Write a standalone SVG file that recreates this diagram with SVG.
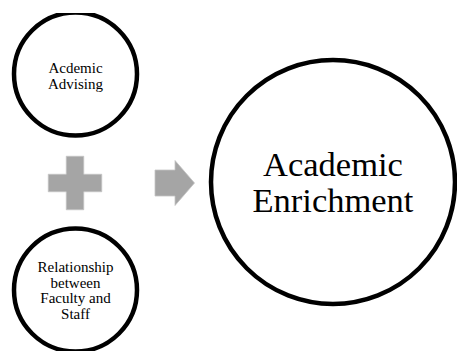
<svg xmlns="http://www.w3.org/2000/svg" width="457" height="351" viewBox="0 0 457 351">
  <style>
    .node { fill: #ffffff; stroke: #000000; stroke-width: 4.5; }
    .sym { fill: #a5a5a5; stroke: #c4c4c4; stroke-width: 0.8; }
    .lbl { font-family: "Liberation Serif", "Times New Roman", serif; fill: #000000; text-anchor: middle; }
    .sm { font-size: 15px; }
    .lg { font-size: 34.5px; }
  </style>
  <defs>
    <clipPath id="clipTop">
      <rect x="0" y="13" width="457" height="338"/>
    </clipPath>
  </defs>
  <rect x="0" y="0" width="457" height="351" fill="#ffffff"/>
  <g id="connectors">
    <path id="plus" class="sym" d="M66.25,156.25 H83.75 V174.25 H101.75 V191.75 H83.75 V209.75 H66.25 V191.75 H48.25 V174.25 H66.25 Z"/>
    <path id="arrow" class="sym" d="M155,170 H175 V160.5 L194.5,183 L175,205.5 V196 H155 Z"/>
  </g>
  <g id="node-advising" clip-path="url(#clipTop)">
    <circle class="node" cx="75.5" cy="74" r="61.5"/>
    <text class="lbl sm" x="75.5" y="73.3">Acdemic</text>
    <text class="lbl sm" x="75.5" y="88.5">Advising</text>
  </g>
  <g id="node-relationship">
    <circle class="node" cx="75.5" cy="290" r="61.5"/>
    <text class="lbl sm" x="75.5" y="272">Relationship</text>
    <text class="lbl sm" x="75.5" y="287.5">between</text>
    <text class="lbl sm" x="75.5" y="303">Faculty and</text>
    <text class="lbl sm" x="75.5" y="318.5">Staff</text>
  </g>
  <g id="node-enrichment">
    <circle class="node" cx="333" cy="182" r="122"/>
    <text class="lbl lg" x="333" y="176">Academic</text>
    <text class="lbl lg" x="333" y="212">Enrichment</text>
  </g>
</svg>
